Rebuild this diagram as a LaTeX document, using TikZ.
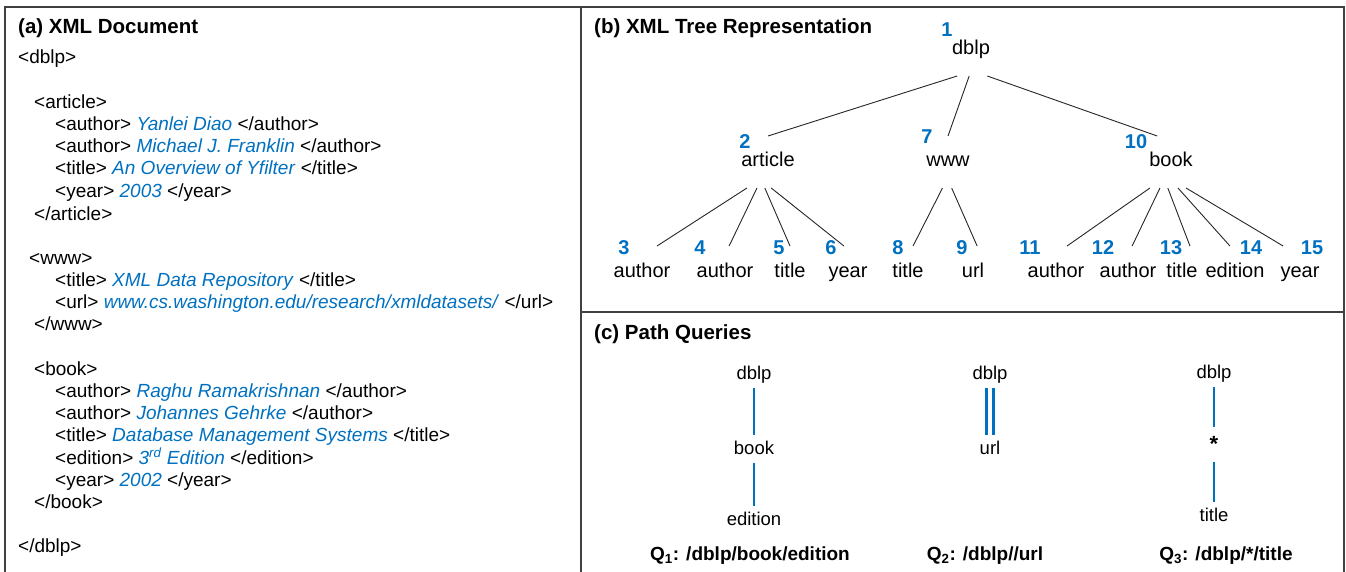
\documentclass[tikz,border=0pt]{standalone}
\usepackage{fontspec}
\setmainfont{Liberation Sans}
\usepackage{xcolor}
\usepackage{tikz}
\usetikzlibrary{positioning}
\definecolor{xmlblue}{HTML}{0070C0}
\newcommand{\val}[1]{\textcolor{xmlblue}{\textit{#1}}}

\begin{document}
\begin{tikzpicture}[x=1pt, y=-1pt,
    frame/.style={draw=black!75, line width=1.4pt},
    heading/.style={anchor=base west, inner sep=0pt, font=\fontsize{20.5}{24}\selectfont\bfseries},
    xmlline/.style={anchor=base west, inner sep=0pt, font=\fontsize{19}{22}\selectfont},
    tword/.style={inner sep=0pt, outer xsep=0pt, outer ysep=17pt, text height=14pt, text depth=4pt, font=\fontsize{20}{24}\selectfont},
    tnum/.style={inner sep=0pt, text=xmlblue, font=\fontsize{20}{24}\selectfont\bfseries},
    edge/.style={draw=black!85, line width=0.9pt},
    qword/.style={inner sep=0pt, outer ysep=5pt, text height=14pt, text depth=4pt, font=\fontsize{18.5}{22}\selectfont},
    qline/.style={draw=xmlblue, line width=2.6pt},
    qcap/.style={anchor=base, inner sep=0pt, font=\fontsize{19}{22}\selectfont\bfseries}]

    \useasboundingbox (0,0) rectangle (1346,572);

    \draw[frame] (5,572) -- (5,7) -- (1344,7) -- (1344,572);
    \draw[frame] (581,7) -- (581,572);
    \draw[frame] (581,312) -- (1344,312);

    \node[heading] (titlea) at (18,34) {(a) XML Document};
    \node[xmlline] (dblpopen) at (18,64) {<dblp>};
    \node[xmlline] (artopen) at (34,109) {<article>};
    \node[xmlline] (artauth1) at (55,131) {<author> \val{Yanlei Diao} </author>};
    \node[xmlline] (artauth2) at (55,153) {<author> \val{Michael J. Franklin} </author>};
    \node[xmlline] (arttitle) at (55,175) {<title> \val{An Overview of Yfilter} </title>};
    \node[xmlline] (artyear) at (55,198) {<year> \val{2003} </year>};
    \node[xmlline] (artclose) at (34,220) {</article>};
    \node[xmlline] (wwwopen) at (29,264) {<www>};
    \node[xmlline] (wwwtitle) at (55,286) {<title> \val{XML Data Repository} </title>};
    \node[xmlline] (wwwurl) at (55,308) {<url> \val{www.cs.washington.edu/research/xmldatasets/} </url>};
    \node[xmlline] (wwwclose) at (34,330) {</www>};
    \node[xmlline] (bookopen) at (34,375) {<book>};
    \node[xmlline] (bookauth1) at (55,397) {<author> \val{Raghu Ramakrishnan} </author>};
    \node[xmlline] (bookauth2) at (55,419) {<author> \val{Johannes Gehrke} </author>};
    \node[xmlline] (booktitle) at (55,441) {<title> \val{Database Management Systems} </title>};
    \node[xmlline] (booked) at (55,464) {<edition> \val{3\textsuperscript{rd} Edition} </edition>};
    \node[xmlline] (bookyear) at (55,486) {<year> \val{2002} </year>};
    \node[xmlline] (bookclose) at (34,508) {</book>};
    \node[xmlline] (dblpclose) at (18,552) {</dblp>};

    \node[heading] (titleb) at (594,34) {(b) XML Tree Representation};
    \node[tword] (dblp) at (971,50) {dblp};
    \node[tword] (article) at (768,162) {article};
    \node[tword] (www) at (948,162) {www};
    \node[tword] (book) at (1171,162) {book};
    \node[tword] (a3) at (642,272) {author};
    \node[tword] (a4) at (725,272) {author};
    \node[tword] (t5) at (790,272) {title};
    \node[tword] (y6) at (848,272) {year};
    \node[tword] (t8) at (908,272) {title};
    \node[tword] (u9) at (973,272) {url};
    \node[tword] (a11) at (1056,272) {author};
    \node[tword] (a12) at (1128,272) {author};
    \node[tword] (t13) at (1182,272) {title};
    \node[tword] (e14) at (1235,272) {edition};
    \node[tword] (y15) at (1300,272) {year};

    \node[tnum] (n1) at (947,30) {1};
    \node[tnum] (n2) at (745,142) {2};
    \node[tnum] (n7) at (927,137) {7};
    \node[tnum] (n10) at (1136,142) {10};
    \node[tnum] (n3) at (624,248) {3};
    \node[tnum] (n4) at (700,248) {4};
    \node[tnum] (n5) at (779,248) {5};
    \node[tnum] (n6) at (831,248) {6};
    \node[tnum] (n8) at (898,248) {8};
    \node[tnum] (n9) at (962,248) {9};
    \node[tnum] (n11) at (1030,248) {11};
    \node[tnum] (n12) at (1103,248) {12};
    \node[tnum] (n13) at (1171,248) {13};
    \node[tnum] (n14) at (1251,248) {14};
    \node[tnum] (n15) at (1312,248) {15};

    \foreach \from/\to in {dblp.242/article.north, dblp.266/www.north, dblp.302/book.118,
        article.231/a3.60, article.247/a4.81, article.263/t5.north, article.277/y6.99,
        www.258/t8.79, www.278/u9.81,
        book.231/a11.67, book.247/a12.81, book.263/t13.73, book.285/e14.101, book.300/y15.123}
        \draw[edge] (\from) -- (\to);

    \node[heading] (titlec) at (594,339) {(c) Path Queries};
    \node[qword] (q1dblp) at (754,374) {dblp};
    \node[qword] (q1book) at (754,449) {book};
    \node[qword] (q1ed) at (754,520) {edition};
    \node[qword] (q2dblp) at (990,374) {dblp};
    \node[qword] (q2url) at (990,449) {url};
    \node[qword] (q3dblp) at (1214,373) {dblp};
    \node[qword, font=\fontsize{22}{24}\selectfont\bfseries, text height=15pt, text depth=-7pt, outer ysep=10pt] (q3star) at (1214,444) {*};
    \node[qword] (q3title) at (1214,516) {title};

    \draw[qline] (q1dblp.south) -- (q1book.north);
    \draw[qline] (q1book.south) -- (q1ed.north);
    \draw[qline, double=white, double distance=4.7pt] (q2dblp.south) -- (q2url.north);
    \draw[qline] (q3dblp.south) -- (q3star.north);
    \draw[qline] (q3star.south) -- (q3title.north);

    \node[qcap] (cap1) at (750,560) {Q\textsubscript{1}: /dblp/book/edition};
    \node[qcap] (cap2) at (985,560) {Q\textsubscript{2}: /dblp//url};
    \node[qcap] (cap3) at (1226,560) {Q\textsubscript{3}: /dblp/*/title};
\end{tikzpicture}
\end{document}
